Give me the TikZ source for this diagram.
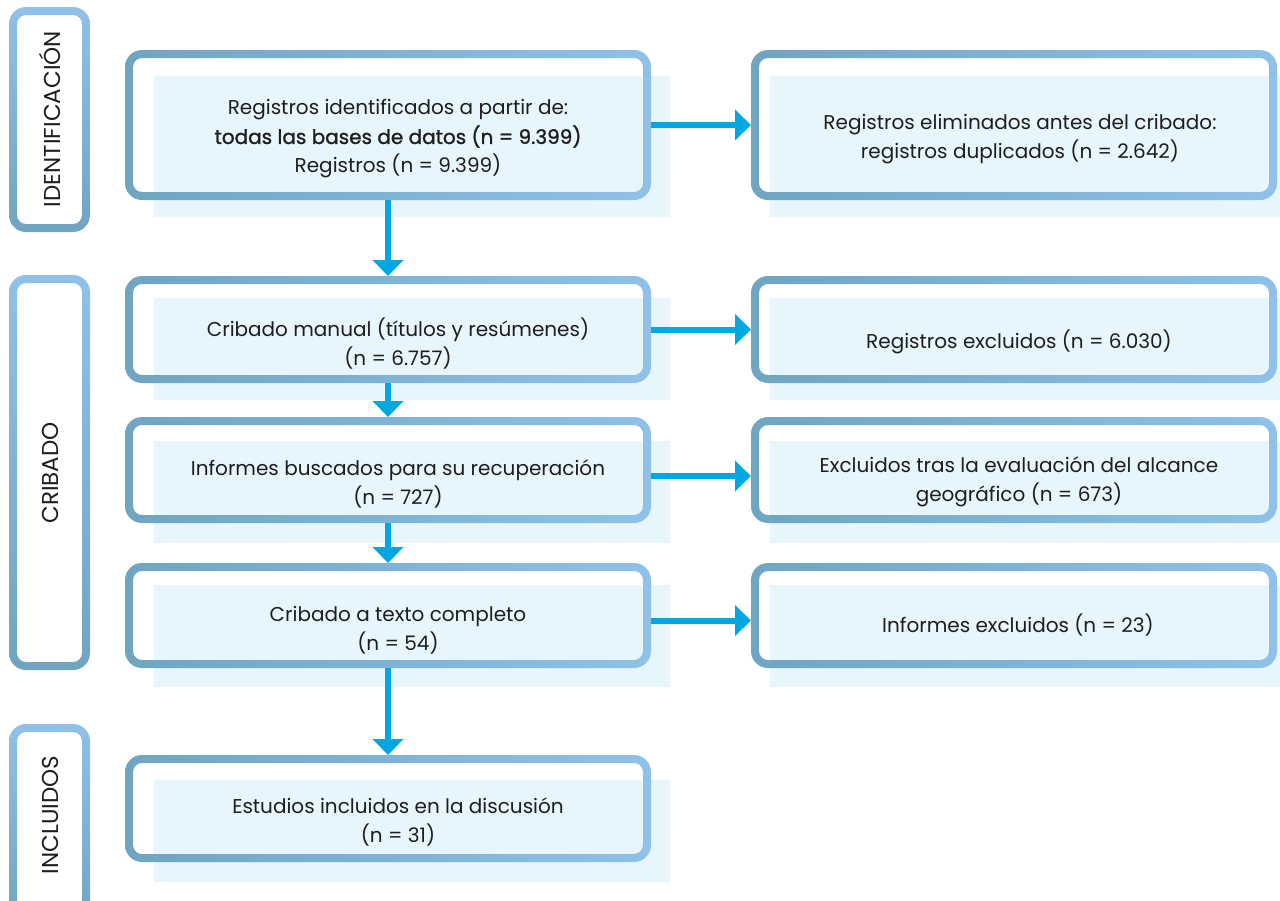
\documentclass[tikz,border=0pt]{standalone}
\usepackage{fontspec}
\setmainfont{Poppins}
\newfontfamily\medfont[FakeBold=1.3]{Poppins}
\usetikzlibrary{calc,arrows.meta,fit}
\definecolor{bgrey}{RGB}{111,165,193}
\definecolor{bcyan}{RGB}{36,168,223}
\definecolor{blight}{RGB}{143,193,233}
\definecolor{shadebg}{RGB}{231,245,252}
\definecolor{arrowc}{RGB}{0,168,225}
\definecolor{txtc}{RGB}{30,30,30}
\newcommand\mkbox[5]{\node[fit={(#2,#3) (#4,#5)}, inner sep=0pt, outer sep=0pt] (#1) {};}
\newcommand\mkring[2]{%
  \shade[#2, even odd rule] [rounded corners=17pt] (#1.south west) rectangle (#1.north east)
    [rounded corners=9pt] ($(#1.south west)+(8pt,8pt)$) rectangle ($(#1.north east)-(8pt,8pt)$);}
\begin{document}
\begin{tikzpicture}[x=1pt,y=-1pt,
  hgrad/.style={left color=bgrey, middle color=bcyan, right color=blight},
  vgrad/.style={top color=blight, middle color=bcyan, bottom color=bgrey},
  shadebox/.style={fill=shadebg},
  txt/.style={align=center, text=txtc, font=\fontsize{20}{29}\selectfont, inner sep=0pt},
  lbl/.style={rotate=90, text=txtc, font=\fontsize{23}{26}\selectfont, inner sep=0pt},
  arr/.style={line width=6pt, draw=arrowc, -{Triangle[width=30pt,length=16pt]}}]
\useasboundingbox (0,0) rectangle (1280,900);
% background shade rectangles
\fill[shadebox] (154,76) rectangle (670,217);
\fill[shadebox] (770,76) rectangle (1280,217);
\fill[shadebox] (154,298) rectangle (670,400);
\fill[shadebox] (770,298) rectangle (1280,400);
\fill[shadebox] (154,441) rectangle (670,543);
\fill[shadebox] (770,441) rectangle (1280,543);
\fill[shadebox] (154,585) rectangle (670,687);
\fill[shadebox] (770,585) rectangle (1280,687);
\fill[shadebox] (154,780) rectangle (670,882);
% box frames
\mkbox{lid}{9}{7}{90}{232}
\mkbox{lcr}{9}{275}{90}{670}
\mkbox{lin}{9}{724}{90}{925}
\mkbox{b1}{125}{50}{651}{200}
\mkbox{r1}{751}{50}{1277}{200}
\mkbox{b2}{125}{276}{651}{383}
\mkbox{r2}{751}{276}{1277}{383}
\mkbox{b3}{125}{417}{651}{523}
\mkbox{r3}{751}{417}{1277}{523}
\mkbox{b4}{125}{563}{651}{668}
\mkbox{r4}{751}{563}{1277}{668}
\mkbox{b5}{125}{755}{651}{862}
\mkring{lid}{vgrad}
\mkring{lcr}{vgrad}
\mkring{lin}{vgrad}
\mkring{b1}{hgrad}
\mkring{r1}{hgrad}
\mkring{b2}{hgrad}
\mkring{r2}{hgrad}
\mkring{b3}{hgrad}
\mkring{r3}{hgrad}
\mkring{b4}{hgrad}
\mkring{r4}{hgrad}
\mkring{b5}{hgrad}
% labels
\node[lbl] (tid) at (50,119) {IDENTIFICACIÓN};
\node[lbl] (tcr) at (50,473) {CRIBADO};
\node[lbl] (tin) at (50,815) {INCLUIDOS};
% texts
\node[txt] (t1) at (398,139) {Registros identificados a partir de:\\{\medfont todas las bases de datos (n = 9.399)}\\Registros (n = 9.399)};
\node[txt] (s1) at (1020,139) {Registros eliminados antes del cribado:\\registros duplicados (n = 2.642)};
\node[txt] (t2) at (398,344) {Cribado manual (títulos y resúmenes)\\(n = 6.757)};
\node[txt] (s2) at (1019,342) {Registros excluidos (n = 6.030)};
\node[txt] (t3) at (398,484) {Informes buscados para su recuperación\\(n = 727)};
\node[txt] (s3) at (1019,482) {Excluidos tras la evaluación del alcance\\geográfico (n = 673)};
\node[txt] (t4) at (398,630) {Cribado a texto completo\\(n = 54)};
\node[txt] (s4) at (1018,625) {Informes excluidos (n = 23)};
\node[txt] (t5) at (398,822) {Estudios incluidos en la discusión\\(n = 31)};
% arrows
\draw[arr] (b1.south) -- (b2.north);
\draw[arr] (b2.south) -- (b3.north);
\draw[arr] (b3.south) -- (b4.north);
\draw[arr] (b4.south) -- (b5.north);
\draw[arr] (b1.east) -- (r1.west);
\draw[arr] (b2.east) -- (r2.west);
\draw[arr] ($(b3.east)+(0,6)$) -- ($(r3.west)+(0,6)$);
\draw[arr] ($(b4.east)+(0,5)$) -- ($(r4.west)+(0,5)$);
\end{tikzpicture}
\end{document}
